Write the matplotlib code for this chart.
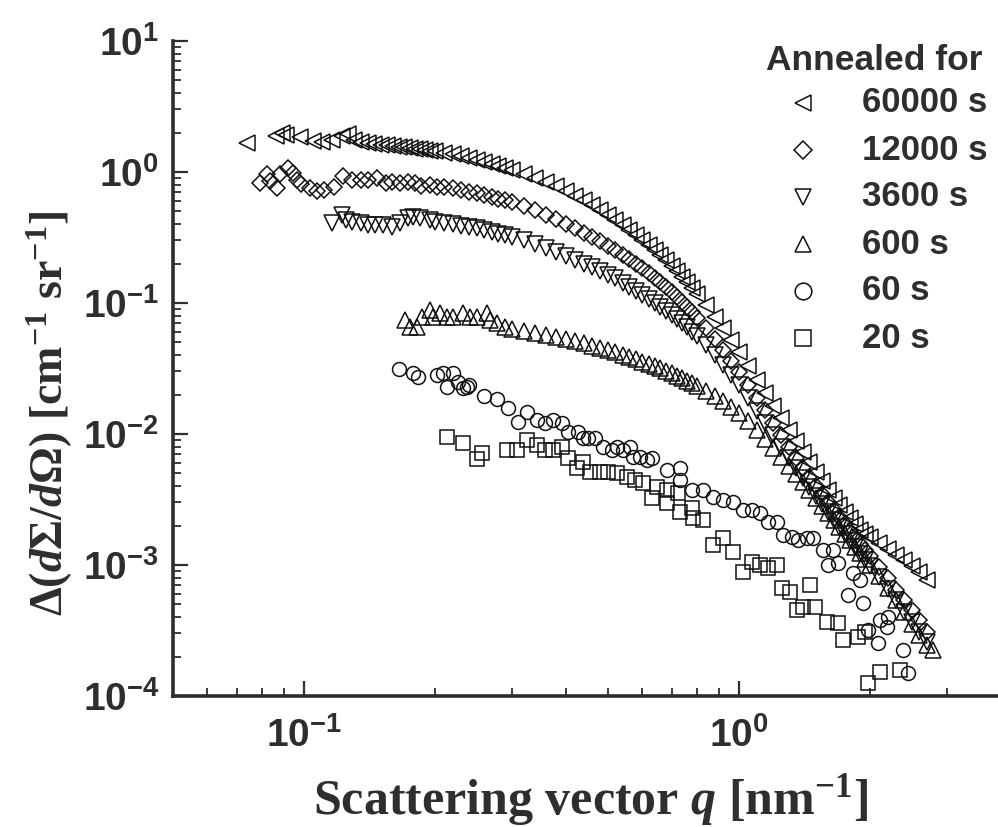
import matplotlib
matplotlib.use("Agg")
import matplotlib.pyplot as plt
from matplotlib.lines import Line2D
from matplotlib.ticker import LogLocator, LogFormatterSciNotation, NullFormatter

plt.rcParams["font.family"] = "Liberation Sans"
plt.rcParams["font.weight"] = "bold"
plt.rcParams["mathtext.fontset"] = "custom"
plt.rcParams["mathtext.rm"] = "Liberation Serif:bold"
plt.rcParams["mathtext.it"] = "Liberation Serif:bold:italic"
plt.rcParams["mathtext.bf"] = "Liberation Serif:bold"

INK = "#2e2e2e"

# annealed 60000 s
q_60000 = [0.074, 0.0862, 0.089, 0.0909, 0.0979, 0.105, 0.110, 0.116, 0.122, 0.126,
           0.13, 0.135, 0.14, 0.145, 0.15, 0.155, 0.16, 0.165, 0.17, 0.175, 0.18, 0.185,
           0.19, 0.195, 0.2, 0.21, 0.22, 0.23, 0.24, 0.25, 0.26, 0.27, 0.28, 0.29, 0.30,
           0.32, 0.34, 0.36, 0.38, 0.40, 0.42, 0.44, 0.46, 0.48, 0.50, 0.52, 0.54, 0.56,
           0.58, 0.60, 0.62, 0.64, 0.66, 0.68, 0.70, 0.72, 0.74, 0.76, 0.78, 0.80,
           0.84, 0.88, 0.92, 0.96, 1.00, 1.05, 1.10, 1.15, 1.20, 1.25, 1.30, 1.35, 1.40,
           1.45, 1.50, 1.55, 1.60, 1.65, 1.70, 1.75, 1.80, 1.85, 1.90, 1.95, 2.00,
           2.10, 2.20, 2.30, 2.40, 2.50, 2.60, 2.70]
I_60000 = [1.66, 1.88, 1.99, 1.92, 1.85, 1.72, 1.69, 1.75, 1.88, 1.95,
           1.75, 1.69, 1.66, 1.64, 1.61, 1.61, 1.58, 1.55, 1.55, 1.52, 1.50, 1.50,
           1.47, 1.45, 1.45, 1.40, 1.37, 1.32, 1.28, 1.23, 1.19, 1.15, 1.11, 1.07, 1.04,
           0.965, 0.90, 0.839, 0.782, 0.716, 0.656, 0.611, 0.560, 0.513, 0.470, 0.430,
           0.394, 0.361, 0.330, 0.303, 0.277, 0.254, 0.232, 0.213, 0.192, 0.176, 0.158,
           0.145, 0.130, 0.117,
           0.0966, 0.0782, 0.0645, 0.0522, 0.0423, 0.0330, 0.0258, 0.0206, 0.0164,
           0.0132, 0.0107, 0.00885, 0.00729, 0.00611, 0.00513, 0.00438, 0.00374,
           0.00325, 0.00287, 0.00254, 0.00229, 0.00206, 0.00185, 0.00172, 0.00164,
           0.00147, 0.00132, 0.00119, 0.00109, 0.000982, 0.000885, 0.000768]

# annealed 12000 s
q_12000 = [0.0792, 0.0822, 0.0835, 0.0867, 0.0881, 0.0919, 0.0943, 0.0964, 0.0984, 0.103,
           0.107, 0.111, 0.117, 0.123, 0.129, 0.135, 0.140, 0.147, 0.154, 0.159, 0.166,
           0.173, 0.18, 0.186, 0.195, 0.202, 0.21, 0.22, 0.23, 0.24, 0.25, 0.26, 0.27,
           0.28, 0.29, 0.30,
           0.32, 0.34, 0.36, 0.38, 0.40, 0.42, 0.44, 0.46, 0.48, 0.50, 0.52, 0.54, 0.56,
           0.58, 0.60, 0.62, 0.64, 0.66, 0.68, 0.70, 0.72, 0.74, 0.76, 0.78, 0.80,
           0.84, 0.88, 0.92, 0.96, 1.00, 1.05, 1.10, 1.15, 1.20, 1.25, 1.30, 1.35, 1.40,
           1.45, 1.50, 1.55, 1.60, 1.65, 1.70, 1.75, 1.80, 1.85, 1.90, 1.95, 2.00,
           2.10, 2.20, 2.30, 2.40, 2.50, 2.60, 2.70]
I_12000 = [0.824, 0.965, 0.854, 0.755, 0.965, 1.07, 0.983, 0.869, 0.810, 0.755,
           0.716, 0.729, 0.768, 0.932, 0.869, 0.869, 0.869, 0.90, 0.824, 0.839, 0.824,
           0.839, 0.824, 0.782, 0.796, 0.768, 0.768, 0.755, 0.729, 0.704, 0.692, 0.668,
           0.645, 0.622, 0.611, 0.590,
           0.550, 0.513, 0.470, 0.438, 0.401, 0.374, 0.342, 0.319, 0.297, 0.272, 0.254,
           0.232, 0.217, 0.199, 0.185, 0.169, 0.155, 0.145, 0.132, 0.121, 0.111, 0.102,
           0.0932, 0.0854, 0.0768,
           0.0645, 0.0531, 0.0438, 0.0361, 0.0297, 0.0237, 0.0188, 0.0153, 0.0121,
           0.00982, 0.00796, 0.00656, 0.00550, 0.00470, 0.00401, 0.00348, 0.00303,
           0.00263, 0.00232, 0.00206, 0.00182, 0.00164, 0.00145, 0.00130, 0.00117,
           0.000965, 0.000796, 0.000644, 0.000541, 0.000453, 0.000380, 0.000308]

# annealed 3600 s
q_3600 = [0.116, 0.122, 0.125, 0.129, 0.135, 0.140, 0.146, 0.152, 0.159, 0.166, 0.173,
          0.178, 0.185, 0.195, 0.2, 0.21, 0.22, 0.23, 0.24, 0.25, 0.26, 0.27, 0.28, 0.29,
          0.30,
          0.32, 0.34, 0.36, 0.38, 0.40, 0.42, 0.44, 0.46, 0.48, 0.50, 0.52, 0.54, 0.56,
          0.58, 0.60, 0.62, 0.64, 0.66, 0.68, 0.70, 0.72, 0.74, 0.76, 0.78, 0.80,
          0.84, 0.88, 0.92, 0.96, 1.00, 1.05, 1.10, 1.15, 1.20, 1.25, 1.30, 1.35, 1.40,
          1.45, 1.50, 1.55, 1.60, 1.65, 1.70, 1.75, 1.80, 1.85, 1.90, 1.95, 2.00,
          2.10, 2.20, 2.30, 2.40, 2.50, 2.60, 2.70]
I_3600 = [0.408, 0.470, 0.430, 0.415, 0.408, 0.394, 0.394, 0.394, 0.380, 0.408, 0.446,
          0.453, 0.446, 0.430, 0.415, 0.408, 0.401, 0.387, 0.380, 0.374, 0.361, 0.348,
          0.336, 0.330, 0.319,
          0.303, 0.282, 0.263, 0.245, 0.229, 0.213, 0.199, 0.188, 0.176, 0.164, 0.155,
          0.142, 0.132, 0.124, 0.115, 0.107, 0.100, 0.0932, 0.0869, 0.0810, 0.0755,
          0.0704, 0.0656, 0.0601, 0.0560,
          0.0478, 0.0401, 0.0336, 0.0282, 0.0237, 0.0188, 0.0150, 0.0121, 0.00982,
          0.00796, 0.00656, 0.00550, 0.00461, 0.00394, 0.00336, 0.00292, 0.00254,
          0.00221, 0.00195, 0.00172, 0.00152, 0.00137, 0.00121, 0.00109, 0.000982,
          0.000810, 0.000656, 0.000541, 0.000438, 0.000367, 0.000308, 0.000258]

# annealed 600 s
q_600 = [0.171, 0.175, 0.182, 0.187, 0.195, 0.198, 0.205, 0.213, 0.22, 0.232, 0.241,
         0.25, 0.263, 0.268, 0.278, 0.29, 0.30,
         0.32, 0.34, 0.36, 0.38, 0.40, 0.42, 0.44, 0.46, 0.48, 0.50, 0.52, 0.54, 0.56,
         0.58, 0.60, 0.62, 0.64, 0.66, 0.68, 0.70, 0.72, 0.74, 0.76, 0.78, 0.80,
         0.84, 0.88, 0.92, 0.96, 1.00, 1.05, 1.10, 1.15, 1.20, 1.25, 1.30, 1.35, 1.40,
         1.45, 1.50, 1.55, 1.60, 1.65, 1.70, 1.75, 1.80, 1.85, 1.90, 1.95, 2.00,
         2.10, 2.20, 2.30, 2.40, 2.50, 2.60, 2.70, 2.80]
I_600 = [0.0742, 0.0656, 0.0656, 0.0782, 0.0885, 0.0782, 0.0839, 0.0782, 0.0782, 0.0839,
         0.0782, 0.0782, 0.0839, 0.0742, 0.0704, 0.0656, 0.0633,
         0.0611, 0.0590, 0.0570, 0.0550, 0.0531, 0.0513, 0.0495, 0.0470, 0.0453, 0.0438,
         0.0423, 0.0401, 0.0387, 0.0374, 0.0355, 0.0342, 0.0330, 0.0319, 0.0303, 0.0292,
         0.0277, 0.0268, 0.0254, 0.0245, 0.0232,
         0.0213, 0.0195, 0.0179, 0.0161, 0.0145, 0.0126, 0.0107, 0.00916, 0.00782,
         0.00668, 0.00570, 0.00495, 0.00430, 0.00374, 0.00325, 0.00282, 0.00249,
         0.00221, 0.00195, 0.00172, 0.00155, 0.00137, 0.00124, 0.00111, 0.00100,
         0.000824, 0.000668, 0.000541, 0.000438, 0.000355, 0.000292, 0.000245, 0.000224]

# annealed 60 s
q_60 = [0.165, 0.178, 0.183, 0.202, 0.209, 0.213, 0.22, 0.226, 0.232, 0.237, 0.24, 0.26,
        0.278, 0.294, 0.311, 0.326, 0.343, 0.358, 0.374, 0.392, 0.404, 0.427, 0.438,
        0.450, 0.467, 0.487, 0.511, 0.524, 0.54, 0.562, 0.571, 0.592, 0.615, 0.631,
        0.683, 0.732, 0.732, 0.780, 0.826, 0.871, 0.919, 0.969, 1.021, 1.071, 1.117,
        1.166, 1.223, 1.262, 1.324, 1.366, 1.433, 1.480, 1.560, 1.645, 1.602, 1.689,
        1.828, 1.897, 1.780, 1.928, 2.110, 2.200, 2.189, 1.980, 2.086, 2.382, 2.446]
I_60 = [0.0313, 0.0292, 0.0272, 0.0282, 0.0292, 0.0228, 0.0292, 0.0249, 0.0224, 0.0228,
        0.0237, 0.0195, 0.0185, 0.0158, 0.0123, 0.0147, 0.0128, 0.0121, 0.0128, 0.0121,
        0.0104, 0.0104, 0.00932, 0.00932, 0.00932, 0.00796, 0.00755, 0.00796, 0.00755,
        0.00796, 0.00668, 0.00668, 0.00633, 0.00656, 0.00531, 0.00550, 0.00446,
        0.00374, 0.00374, 0.00330, 0.00313, 0.00303, 0.00263, 0.00263, 0.00249,
        0.00213, 0.00213, 0.00169, 0.00164, 0.00155, 0.00161, 0.00161, 0.00130,
        0.00130, 0.00100, 0.00104, 0.000869, 0.000768, 0.000590, 0.000513, 0.000380,
        0.000401, 0.000336, 0.000319, 0.000254, 0.000224, 0.000150]

# annealed 20 s
q_20 = [0.213, 0.232, 0.250, 0.257, 0.293, 0.309, 0.326, 0.343, 0.358, 0.374, 0.392,
        0.404, 0.424, 0.438, 0.455, 0.479, 0.50, 0.524, 0.553, 0.577, 0.602, 0.631,
        0.648, 0.683, 0.683, 0.724, 0.732, 0.780, 0.784, 0.826, 0.871, 0.919, 0.969,
        1.021, 1.071, 1.117, 1.166, 1.223, 1.256, 1.310, 1.359, 1.40, 1.456, 1.495,
        1.593, 1.689, 1.734, 1.877, 1.949, 2.110, 1.980, 2.345]
I_20 = [0.00948, 0.00853, 0.00645, 0.00716, 0.00755, 0.00755, 0.00900, 0.00824, 0.00755,
        0.00755, 0.00796, 0.00656, 0.00550, 0.00611, 0.00513, 0.00513, 0.00513, 0.00504,
        0.00470, 0.00446, 0.00423, 0.00325, 0.00394, 0.00374, 0.00297, 0.00355,
        0.00254, 0.00272, 0.00229, 0.00221, 0.00142, 0.00161, 0.00126, 0.000885,
        0.00105, 0.00100, 0.000949, 0.00100, 0.000668, 0.000622, 0.000453, 0.000478,
        0.000703, 0.000478, 0.000367, 0.000361, 0.000267, 0.000282, 0.000308,
        0.000153, 0.000126, 0.000158]

labels = ["60000 s", "12000 s", "3600 s", "600 s", "60 s", "20 s"]
series = [(q_60000, I_60000), (q_12000, I_12000), (q_3600, I_3600),
          (q_600, I_600), (q_60, I_60), (q_20, I_20)]
markers = ["<", "D", "v", "^", "o", "s"]
sizes = [11, 8.5, 11, 11, 10, 9.5]

W, H = 998, 827
fig = plt.figure(figsize=(W / 100, H / 100), dpi=100)
ax = fig.add_axes([173 / W, 131 / H, 825 / W, 655 / H])

for (q, I), m, s in zip(series, markers, sizes):
    ax.plot(q, I, linestyle="none", marker=m, ms=s, mfc="none",
            mec="#111111", mew=1.1)

ax.set_xscale("log")
ax.set_yscale("log")
ax.set_xlim(0.05, 3.94)
ax.set_ylim(1e-4, 1e1)

for axis in (ax.xaxis, ax.yaxis):
    axis.set_major_locator(LogLocator(base=10, numticks=12))
    axis.set_minor_locator(LogLocator(base=10, subs=range(2, 10), numticks=12))
    axis.set_major_formatter(LogFormatterSciNotation())
    axis.set_minor_formatter(NullFormatter())

ax.tick_params(which="major", direction="in", length=11, width=1.6, color=INK,
               labelsize=28, labelcolor=INK)
ax.tick_params(which="minor", direction="in", length=6, width=1.3, color=INK)
ax.tick_params(axis="y", which="major", pad=10)
ax.tick_params(axis="x", which="major", pad=15)

for side in ("top", "right"):
    ax.spines[side].set_visible(False)
for side in ("left", "bottom"):
    ax.spines[side].set_linewidth(2.6)
    ax.spines[side].set_color(INK)

fig.text(591 / W, 1 - 800 / H, r"Scattering vector $q$ [nm$^{-1}$]",
         family="Liberation Serif", weight="bold", size=36, color=INK,
         ha="center", va="center")
fig.text(50 / W, 1 - 413 / H,
         r"$\Delta(\mathit{d\Sigma/d\Omega})$ [cm$^{-1}$ sr$^{-1}$]",
         family="Liberation Serif", weight="bold", size=33, color=INK,
         rotation=90, ha="center", va="center")

# legend block, upper right
fig.text(982 / W, 1 - 60 / H, "Annealed for", size=25.5, color=INK,
         ha="right", va="center")
for i, (lab, m) in enumerate(zip(labels, markers)):
    y = 1 - (103 + 47 * i) / H
    fig.add_artist(Line2D([803 / W], [y], transform=fig.transFigure,
                          marker=m, ms=12 if m != "D" else 9.5, mfc="none",
                          mec="#111111", mew=1.1, linestyle="none"))
    fig.text(862 / W, y, lab, size=25, color=INK, ha="left", va="center")

fig.savefig("out.png", dpi=100)
